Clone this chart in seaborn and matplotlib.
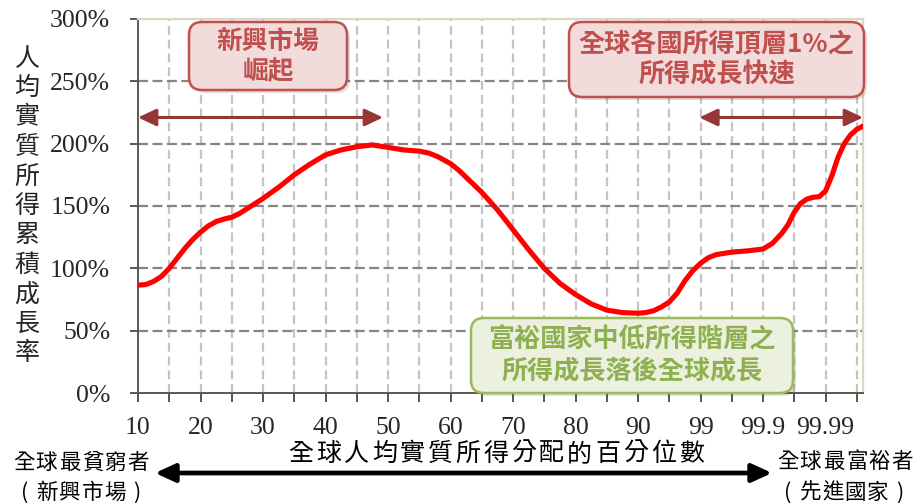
import matplotlib
matplotlib.use("Agg")
import matplotlib.pyplot as plt
import seaborn as sns
import numpy as np
import pandas as pd
from matplotlib.patches import FancyBboxPatch, FancyArrowPatch
from matplotlib.ticker import FixedLocator, FuncFormatter

# ---- data -------------------------------------------------------------
# percentile groups shown on the x axis (one slot each)
tick_labels = ["10", "20", "30", "40", "50", "60", "70", "80", "90",
               "99", "99.9", "99.99"]
# position of each curve sample on the percentile-slot scale
rank_pos = [0.0, 0.125, 0.25, 0.375, 0.5, 0.625, 0.75, 0.875, 1.0,
            1.125, 1.25, 1.375, 1.5, 1.625, 1.75, 1.875, 2.0, 2.25,
            2.5, 2.75, 3.0, 3.25, 3.5, 3.75, 4.0, 4.25, 4.5, 4.65,
            4.8, 5.0, 5.125, 5.25, 5.5, 5.75, 6.0, 6.25, 6.5, 6.75,
            7.0, 7.25, 7.5, 7.75, 8.0, 8.125, 8.25, 8.375, 8.5, 8.625,
            8.75, 8.875, 9.0, 9.125, 9.25, 9.5, 9.75, 10.0, 10.15,
            10.3, 10.4, 10.5, 10.6, 10.7, 10.8, 10.9, 11.0, 11.1, 11.2,
            11.3, 11.4, 11.5, 11.6]
# cumulative real income growth per capita (%)
growth = [86.5, 87, 89.5, 93.5, 100, 108, 116, 123, 129,
          134, 137.5, 139.5, 141, 144, 148, 152, 156, 165,
          175, 183.5, 191, 195, 197.5, 199, 197, 195, 194, 192.5,
          189.5, 184, 179, 173, 161, 147, 131, 115, 100, 88,
          79, 71.5, 66.5, 64.5, 64, 64.5, 66, 69, 73, 80,
          90, 98, 104, 108.5, 111, 113, 114, 115.5, 120,
          128, 135, 145, 152, 155.5, 157, 157.5, 162, 174, 189,
          200, 207, 211.5, 214]
y_ticks = [0, 50, 100, 150, 200, 250, 300]

y_title = "人均實質所得累積成長率"
x_title = "全球人均實質所得分配的百分位數"
left_note = ["全球最貧窮者", "(新興市場)"]
right_note = ["全球最富裕者", "(先進國家)"]
box_emerging = "新興市場\n崛起"
box_top = "全球各國所得頂層1%之\n所得成長快速"
box_middle = "富裕國家中低所得階層之\n所得成長落後全球成長"

df = pd.DataFrame({"rank": rank_pos, "growth": growth})

# ---- style ------------------------------------------------------------
sns.set_style("white")
CJK = "Noto Sans CJK TC"
plt.rcParams["font.family"] = ["Liberation Serif", CJK, "DejaVu Sans"]

W, H = 918, 503
fig = plt.figure(figsize=(W / 100, H / 100), dpi=100)
ax = fig.add_axes([138 / W, 1 - 393 / H, (863 - 138) / W, (393 - 19) / H])

# grid: light vertical dashes on every half slot, darker horizontal dashes
for xv in np.arange(0.5, 11.6, 0.5):
    ax.axvline(xv, color="#c4c4c4", lw=1.6, ls=(0, (4, 2.2)), zorder=1)
for yv in y_ticks[1:-1]:
    ax.axhline(yv, color="#858585", lw=1.6, ls=(0, (4.5, 2)), zorder=1.5)

sns.lineplot(data=df, x="rank", y="growth", ax=ax, color="#ff0000",
             lw=3.7, sort=False, zorder=3, solid_joinstyle="round",
             solid_capstyle="round")

ax.set_xlim(0, 11.6)
ax.set_ylim(0, 300)
ax.xaxis.set_major_locator(FixedLocator(range(len(tick_labels))))
ax.xaxis.set_minor_locator(FixedLocator(np.arange(0.5, 11.6, 1.0)))
ax.set_xticklabels(tick_labels)
ax.set_yticks(y_ticks)
ax.yaxis.set_major_formatter(FuncFormatter(lambda v, p: f"{v:.0f}%"))
ax.tick_params(axis="x", which="both", direction="out", length=6.5,
               width=1.2, color="#3a3a3a", pad=11, labelsize=18.5,
               bottom=True)
ax.tick_params(axis="y", direction="out", length=6, width=1.2,
               color="#3a3a3a", pad=14, labelsize=18.5, left=True)
ax.set_xlabel("")
ax.set_ylabel("")
for side in ("top", "right"):
    ax.spines[side].set_color("#ddd8c4")
    ax.spines[side].set_linewidth(1.6)
for side in ("left", "bottom"):
    ax.spines[side].set_color("#5b5a50")
    ax.spines[side].set_linewidth(1.4)
ax.spines["bottom"].set_zorder(4)

# red range arrows
arrow_red = "#953735"
for x0, x1 in [(0, 3.92), (8.98, 11.6)]:
    ax.annotate("", xy=(x1, 221), xytext=(x0, 221), annotation_clip=False,
                arrowprops=dict(arrowstyle="<|-|>,head_length=11,head_width=5.2",
                                mutation_scale=1, color=arrow_red, lw=2.2,
                                shrinkA=0, shrinkB=0), zorder=4)


def px(x, y):
    """pixel (from top-left) -> inches for fig.dpi_scale_trans"""
    return x / 100, (H - y) / 100


def callout(x0, y0, x1, y1, text, fc, ec, tc, size):
    bx, by = px(x0, y1)
    w, h = (x1 - x0) / 100, (y1 - y0) / 100
    shadow = FancyBboxPatch((bx + 0.03, by - 0.03), w, h,
                            boxstyle="round,pad=0,rounding_size=0.13",
                            transform=fig.dpi_scale_trans, fc="#000000",
                            ec="none", alpha=0.13, zorder=5)
    box = FancyBboxPatch((bx, by), w, h,
                         boxstyle="round,pad=0,rounding_size=0.13",
                         transform=fig.dpi_scale_trans, fc=fc, ec=ec,
                         lw=1.8, zorder=6)
    fig.add_artist(shadow)
    fig.add_artist(box)
    cx, cy = px((x0 + x1) / 2, (y0 + y1) / 2)
    fig.text(cx, cy, text, transform=fig.dpi_scale_trans, ha="center",
             va="center", color=tc, fontsize=size, fontweight="bold",
             family=[CJK, "Liberation Serif"], linespacing=1.15, zorder=7)


callout(189, 22, 347, 90, box_emerging, "#f2dcdb", "#c0504d", "#c0504d", 18.5)
callout(569, 22, 864, 97, box_top, "#f2dcdb", "#c0504d", "#c0504d", 18.8)
callout(471, 318, 793, 393, box_middle, "#ebf1de", "#9bbb59", "#8fb050", 18.8)


def spaced(text, x_center, y, step, size, **kw):
    """write characters one by one at a fixed pitch"""
    n = len(text)
    start = x_center - step * (n - 1) / 2
    for i, ch in enumerate(text):
        fx, fy = px(start + i * step, y)
        fig.text(fx, fy, ch, transform=fig.dpi_scale_trans, ha="center",
                 va="center", fontsize=size, family=[CJK, "DejaVu Sans"],
                 color="black", **kw)


# vertical y-axis title, one character per row
for i, ch in enumerate(y_title):
    fx, fy = px(27, 59 + i * 29.4)
    fig.text(fx, fy, ch, transform=fig.dpi_scale_trans, ha="center",
             va="center", fontsize=18, family=[CJK, "DejaVu Sans"])

spaced(x_title, 496, 454, 27.9, 18)
spaced(left_note[0], 81, 463, 23, 15.5)
spaced(left_note[1], 81, 493, 22.5, 15.5)
spaced(right_note[0], 845, 462, 23, 15.5)
spaced(right_note[1], 844, 493, 22.5, 15.5)

# black double-headed arrow under the axis title
a0, a1 = px(155, 473), px(772, 473)
fig.add_artist(FancyArrowPatch(a0, a1, transform=fig.dpi_scale_trans,
                               arrowstyle="<|-|>,head_length=12,head_width=5.5",
                               mutation_scale=1, color="black", lw=3.4,
                               shrinkA=0, shrinkB=0))

fig.savefig("out.png", dpi=100)
